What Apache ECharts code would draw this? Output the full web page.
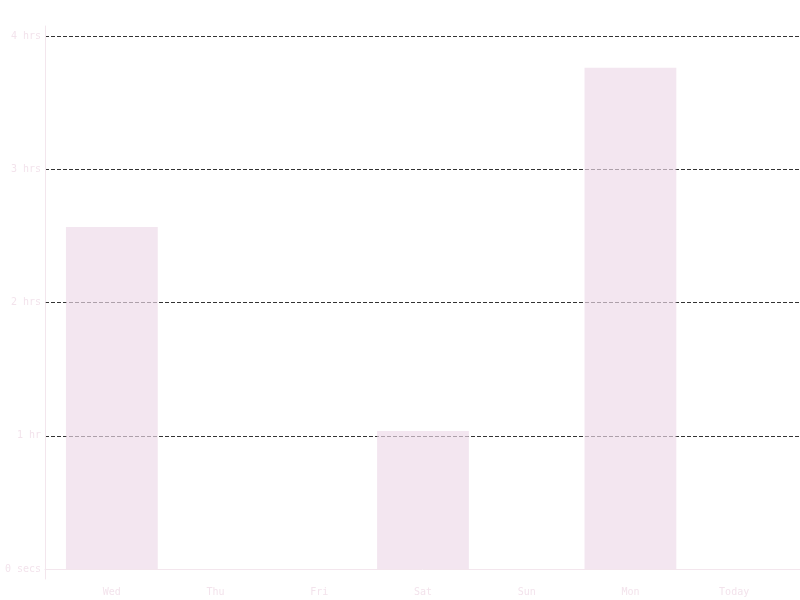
<!DOCTYPE html>
<html>
<head>
<meta charset="utf-8">
<script src="https://cdn.jsdelivr.net/npm/echarts/dist/echarts.min.js"></script>
<style>html,body{margin:0;padding:0;background:#fff}#c{width:800px;height:600px}</style>
</head>
<body>
<div id="c"></div>
<script>
const categories = ['Wed', 'Thu', 'Fri', 'Sat', 'Sun', 'Mon', 'Today'];
const durationSeconds = [9240, 0, 0, 3730, 0, 13540, 0];
const yTickValues = [0, 3600, 7200, 10800, 14400];
const yTickLabels = ['0 secs', '1 hr', '2 hrs', '3 hrs', '4 hrs'];

const textColor = '#f3e3ec';
const lineColor = '#f3e6ed';
const font = '"DejaVu Sans Mono", monospace';

const chart = echarts.init(document.getElementById('c'), null, {renderer: 'canvas'});
chart.setOption({
  animation: false,
  backgroundColor: '#ffffff',
  grid: [
    {left: 60, right: 14, top: 36, bottom: 31},
    {left: 45, right: 0, top: 36, bottom: 31},
    {left: 45, right: 0, top: 26, bottom: 21}
  ],
  xAxis: [
    {
      gridIndex: 0, type: 'category', data: categories,
      axisLine: {show: false}, axisTick: {show: false},
      axisLabel: {color: textColor, fontFamily: font, fontSize: 10, margin: 18}
    },
    {
      gridIndex: 1, type: 'category', data: [''],
      axisLine: {show: true, onZero: false, lineStyle: {color: lineColor, width: 1}},
      axisTick: {show: false}, axisLabel: {show: false}, splitLine: {show: false}
    },
    {
      gridIndex: 2, type: 'category', data: [''], show: false
    }
  ],
  yAxis: [
    {
      gridIndex: 0, type: 'value', min: 0, max: 14400, interval: 3600,
      axisLine: {show: false}, axisTick: {show: false}, splitLine: {show: false},
      axisLabel: {
        color: textColor, fontFamily: font, fontSize: 10, margin: 19,
        padding: [2, 0, 0, 0],
        formatter: function (v) {
          const i = yTickValues.indexOf(v);
          return i >= 0 ? yTickLabels[i] : '';
        }
      }
    },
    {
      gridIndex: 1, type: 'value', min: 0, max: 14400, interval: 3600, z: 0,
      axisLine: {show: false}, axisTick: {show: false}, axisLabel: {show: false},
      splitLine: {show: true, lineStyle: {color: '#333333', width: 1, type: [4, 2]}}
    },
    {
      gridIndex: 2, type: 'value', min: 0, max: 1,
      axisLine: {show: true, onZero: false, lineStyle: {color: lineColor, width: 1}},
      axisTick: {show: false}, axisLabel: {show: false}, splitLine: {show: false}
    }
  ],
  series: [{
    type: 'bar',
    xAxisIndex: 0, yAxisIndex: 0,
    z: 5,
    data: durationSeconds,
    barWidth: '88.5%',
    itemStyle: {
      color: 'rgba(237,217,232,0.66)'
    },
    silent: true
  }]
});
</script>
</body>
</html>
